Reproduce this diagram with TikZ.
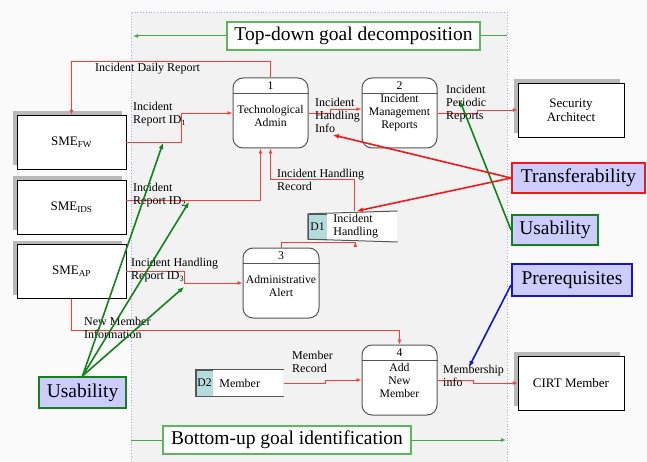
\documentclass[tikz,border=0pt]{standalone}
\usepackage{fontspec}
\setmainfont{Liberation Serif}
\usetikzlibrary{arrows.meta,shadows}
\definecolor{outerbg}{HTML}{FAFAFA}
\definecolor{panelbg}{HTML}{F2F2F2}
\definecolor{panelline}{HTML}{A8A8F0}
\definecolor{flowred}{HTML}{FF3C3C}
\definecolor{hotred}{HTML}{F01818}
\definecolor{goalgreen}{HTML}{5CB85C}
\definecolor{darkgreen}{HTML}{12821A}
\definecolor{darkblue}{HTML}{1414D2}
\definecolor{lavender}{HTML}{CCCCFF}
\definecolor{shadowgrey}{HTML}{B8B8B8}
\definecolor{storecell}{HTML}{B4DCDC}
\definecolor{procgrey}{HTML}{555555}
\newcommand{\lblfont}{\rmfamily\fontsize{12}{13}\selectfont}
\newcommand{\boxfont}{\rmfamily\fontsize{11.7}{13}\selectfont}
\newcommand{\extfont}{\rmfamily\fontsize{13}{14}\selectfont}
\newcommand{\bigfont}{\rmfamily\fontsize{19.5}{22}\selectfont}
\begin{document}
\begin{tikzpicture}[x=1pt,y=-1pt,
  ext/.style={draw=black, fill=white, minimum width=109pt, minimum height=54pt, font=\extfont, align=center,
    drop shadow={shadow xshift=-4pt, shadow yshift=4pt, fill=shadowgrey, opacity=1}},
  proc/.style={draw=procgrey, line width=1pt, fill=white, rounded corners=10pt, minimum width=75pt, minimum height=70pt, font=\boxfont, align=center, inner sep=1pt},
  storeid/.style={draw=procgrey, fill=storecell, minimum width=19pt, minimum height=25pt, inner sep=0pt, font=\boxfont},
  store/.style={fill=white, anchor=west, text width=58pt, inner xsep=6pt, minimum height=25pt, align=left, font=\lblfont},
  goal/.style={draw=goalgreen, line width=1.2pt, fill=white, minimum height=28pt, font=\bigfont},
  quality/.style={line width=2pt, fill=lavender, font=\bigfont, inner xsep=7pt},
  lbl/.style={anchor=north west, align=left, inner sep=0pt, font=\lblfont},
  flow/.style={draw=flowred, line width=0.9pt, -{Latex[length=5pt,width=4pt]}},
  garrow/.style={draw=darkgreen, line width=1.6pt, -{Latex[length=6pt,width=5pt]}},
  rarrow/.style={draw=hotred, line width=1.6pt, -{Latex[length=6pt,width=5pt]}},
  barrow/.style={draw=darkblue, line width=1.6pt, -{Latex[length=6pt,width=5pt]}}]
\useasboundingbox (0,0) rectangle (647,462);
\fill[outerbg] (0,0) rectangle (647,462);
\fill[panelbg] (131,12) rectangle (507,462);
\draw[panelline, dotted, line width=0.8pt] (131,462) -- (131,12) -- (507,12) -- (507,462);
%
\node(td) at (353.5,36) [goal, minimum width=253pt] {Top-down goal decomposition};
\node(bu) at (287,440) [goal, minimum width=248pt] {Bottom-up goal identification};
\coordinate(tdend) at (133,36);
\coordinate(tdstart) at (507,36);
\coordinate(bustart) at (131,440);
\coordinate(buend) at (506,440);
\draw[goalgreen!70!darkgreen, line width=1pt] (tdstart) -- (td.east);
\draw[goalgreen!70!darkgreen, line width=1pt, -{Latex[length=5pt,width=4pt]}] (td.west) -- (tdend);
\draw[goalgreen!70!darkgreen, line width=1pt] (bustart) -- (bu.west);
\draw[goalgreen!70!darkgreen, line width=1pt, -{Latex[length=5pt,width=4pt]}] (bu.east) -- (buend);
%
\node(sfw) at (71.5,142) [ext] {SME\textsubscript{FW}};
\node(sids) at (71.5,207) [ext] {SME\textsubscript{IDS}};
\node(sap) at (71.5,271.5) [ext] {SME\textsubscript{AP}};
\node(sa) at (571,110) [ext, minimum width=106pt] {Security\\Architect};
\node(cirt) at (571,383) [ext, minimum width=106pt] {CIRT Member};
%
\node(p1) at (270.5,113) [proc] {\\[2pt]Technological\\Admin};
\node(p2) at (399.5,113) [proc] {\\[-6pt]Incident\\Management\\Reports};
\node(p3) at (281,283) [proc, minimum width=76pt] {\\[2pt]Administrative\\Alert};
\node(p4) at (399.5,380) [proc] {Add\\New\\Member};
\foreach \p/\n in {p1/1,p2/2,p3/3,p4/4} {
  \draw[procgrey, line width=1pt] ([yshift=-16pt]\p.north west) -- ([yshift=-16pt]\p.north east);
  \node(\p-n) at ([yshift=-8.5pt]\p.north) [font=\boxfont, inner sep=0pt] {\n};
}
%
\node(d1id) at (317.5,226.5) [storeid] {D1};
\node(d1) at (d1id.east) [store] {Incident\\Handling};
\draw[procgrey, line width=1pt] (d1.north east) -- (d1id.north west) -- (d1id.south west) -- (d1.south east);
\node(d2id) at (204.5,383) [storeid, minimum width=17pt, minimum height=26pt] {D2};
\node(d2) at (d2id.east) [store, minimum height=26pt] {Member};
\draw[procgrey, line width=1pt] (d2.north east) -- (d2id.north west) -- (d2id.south west) -- (d2.south east);
%
\draw[flow] (p1.north) -- ++(0,-16) -| (sfw.north);
\draw[flow] (sfw.east) -- ++(55,0) |- (p1.west);
\draw[flow] ([yshift=7pt]sids.east) -| ([xshift=-10pt]p1.south);
\draw[flow] ([xshift=-8pt]d1.north) -- ++(0,-32) -| (p1.south);
\draw[flow] (p1.east) -- ++(22,0) |- ([yshift=4pt]p2.west);
\draw[flow] (p2.east) -- ++(40,0) |- (sa.west);
\draw[flow] (sap.east) -- ++(58,0) |- (p3.west);
\draw[flow] (p3.north) -- ++(0,-5) -| ([xshift=-7pt]d1.south);
\draw[flow] (sap.south) -- ++(0,32) -| (p4.north);
\draw[flow] (d2.east) -- ++(42,0) |- (p4.west);
\draw[flow] (p4.east) -- ++(36,0) |- (cirt.west);
%
\node(l1) at (95,63) [lbl] {Incident Daily Report};
\node(l2) at (133,102) [lbl] {Incident\\Report ID\textsubscript{1}};
\node(l3) at (133,183) [lbl] {Incident\\Report ID\textsubscript{2}};
\node(l4) at (277,169) [lbl] {Incident Handling\\Record};
\node(l5) at (315,98) [lbl] {Incident\\Handling\\Info};
\node(l6) at (446,85) [lbl] {Incident\\Periodic\\Reports};
\node(l7) at (131,258) [lbl] {Incident Handling\\Report ID\textsubscript{3}};
\node(l8) at (84,317) [lbl] {New Member\\Information};
\node(l9) at (292,351) [lbl] {Member\\Record};
\node(l10) at (443,365) [lbl] {Membership\\info};
%
\node(tr) at (578.5,178) [quality, draw=hotred, minimum width=133pt, minimum height=30pt] {Transferability};
\node(usr) at (555,230) [quality, draw=darkgreen, minimum width=86pt, minimum height=30pt] {Usability};
\node(pre) at (572,280) [quality, draw=darkblue, minimum width=120pt, minimum height=32pt] {Prerequisites};
\node(usl) at (82.5,392.5) [quality, draw=darkgreen, minimum width=87pt, minimum height=31pt] {Usability};
%
\coordinate(g1) at (163,143);
\coordinate(g2) at (189,202);
\coordinate(g3) at (184,287);
\coordinate(g4) at (460,101);
\coordinate(t1) at (333,135);
\coordinate(t2) at (357,211);
\coordinate(b1) at (469,367);
\draw[garrow] (usl.north) -- (g1);
\draw[garrow] (usl.north) -- (g2);
\draw[garrow] (usl.north) -- (g3);
\draw[garrow] (usr.west) -- (g4);
\draw[rarrow] (tr.west) -- (t1);
\draw[rarrow] (tr.west) -- (t2);
\draw[barrow] ([yshift=-5pt]pre.west) -- (b1);
\end{tikzpicture}
\end{document}
